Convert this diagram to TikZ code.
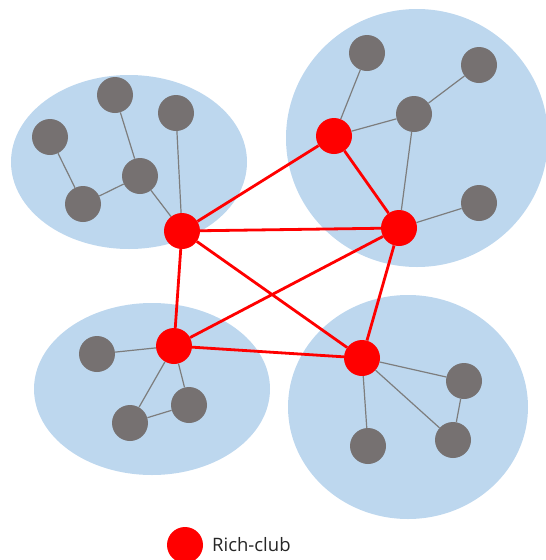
\documentclass[tikz,border=0pt]{standalone}
\usepackage{fontspec}
\setmainfont{Open Sans}
\definecolor{clusterblue}{RGB}{189,215,238}
\definecolor{nodegray}{RGB}{118,113,113}
\definecolor{edgegray}{RGB}{125,125,125}
\begin{document}
\begin{tikzpicture}[x=1pt,y=-1pt,
  cluster/.style={fill=clusterblue,draw=none},
  plain/.style={circle,fill=nodegray,minimum size=36pt,inner sep=0pt},
  rich/.style={circle,fill=red,minimum size=36pt,inner sep=0pt},
  gedge/.style={draw=edgegray,line width=1.2pt},
  redge/.style={draw=red,line width=2.8pt}]
\useasboundingbox (0,0) rectangle (546,560);
% clusters
\fill[cluster] (129,162) ellipse [x radius=118, y radius=87];
\fill[cluster] (417,138) ellipse [x radius=131, y radius=129];
\fill[cluster] (152,389) ellipse [x radius=118, y radius=86];
\fill[cluster] (408,407) ellipse [x radius=120, y radius=112];
% nodes
\node[plain] (a1) at (50,137) {};
\node[plain] (a2) at (115,95) {};
\node[plain] (a3) at (176,113) {};
\node[plain] (a4) at (140,176) {};
\node[plain] (a5) at (83,204) {};
\node[plain] (b1) at (367,53) {};
\node[plain] (b2) at (479,65) {};
\node[plain] (b3) at (414,114) {};
\node[plain] (b4) at (479,203) {};
\node[plain] (c1) at (97,354) {};
\node[plain] (c2) at (189,405) {};
\node[plain] (c3) at (130,423) {};
\node[plain] (d1) at (464,381) {};
\node[plain] (d2) at (453,440) {};
\node[plain] (d3) at (368,446) {};
\node[rich] (r1) at (182,231) {};
\node[rich] (r2) at (334,136) {};
\node[rich] (r3) at (399,228) {};
\node[rich] (r4) at (174,346) {};
\node[rich] (r5) at (362,358) {};
% gray edges
\path[gedge] (a1) -- (a5) (a5) -- (a4) (a2) -- (a4) (a4) -- (r1) (a3) -- (r1)
  (b1) -- (r2) (r2) -- (b3) (b3) -- (b2) (b3) -- (r3) (r3) -- (b4)
  (c1) -- (r4) (r4) -- (c2) (r4) -- (c3) (c3) -- (c2)
  (r5) -- (d1) (d1) -- (d2) (r5) -- (d2) (r5) -- (d3);
% red edges
\path[redge] (r1) -- (r2) (r1) -- (r3) (r1) -- (r4) (r1) -- (r5)
  (r2) -- (r3) (r3) -- (r4) (r3) -- (r5) (r4) -- (r5);
% legend
\node[rich] (leg) at (185,545) {};
\node[anchor=west,inner sep=0pt,font=\fontsize{18.5}{21}\selectfont,text=black!85] (legtext) at (212,545) {Rich-club};
\end{tikzpicture}
\end{document}
